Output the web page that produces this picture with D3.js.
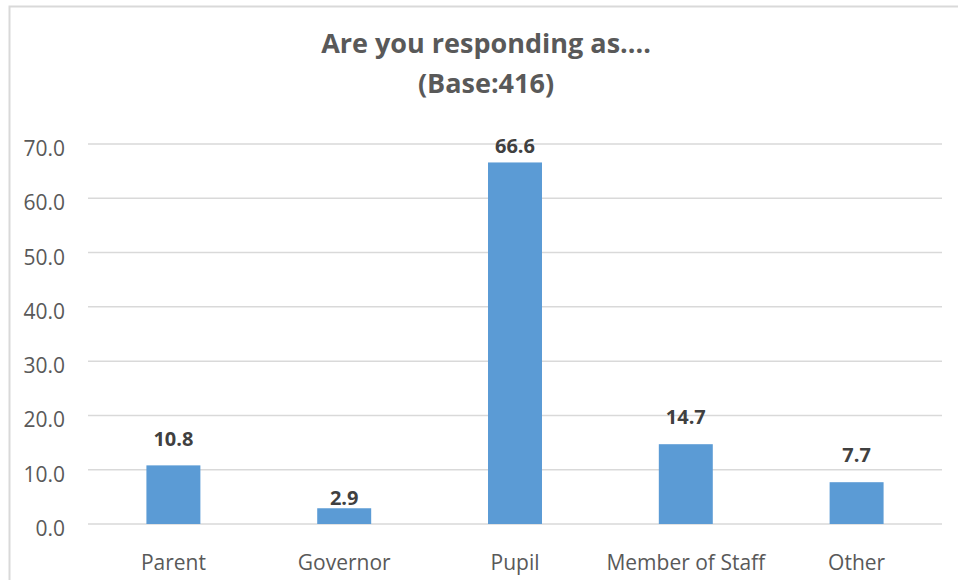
<!DOCTYPE html>
<html><head><meta charset="utf-8">
<script src="https://cdn.jsdelivr.net/npm/d3@7"></script>
<style>body{margin:0;background:#fff}svg{display:block}</style>
</head><body>
<script>
const categories = ["Parent","Governor","Pupil","Member of Staff","Other"];
const values = [10.8, 2.9, 66.6, 14.7, 7.7];
const yTicks = [0,10,20,30,40,50,60,70];
const titleLines = ["Are you responding as....","(Base:416)"];

(function(){
const W = 958, H = 580;
const svg = d3.select("body").append("svg").attr("width", W).attr("height", H);
const font = "'Open Sans', 'Noto Sans', sans-serif";
// gap between bar top and label baseline, as placed in the source chart
const labelGap = [19, 3, 9, 20, 20];

svg.append("rect").attr("x",9.5).attr("y",6.5).attr("width",W+20).attr("height",H+20)
  .attr("fill","none").attr("stroke","#d9d9d9").attr("stroke-width",2);

const pLeft = 88, pRight = 942, pTop = 144, pBottom = 524;
const x = d3.scaleBand().domain(categories).range([pLeft, pRight]).padding(0);
const y = d3.scaleLinear().domain([0,70]).range([pBottom, pTop]);

svg.append("g").selectAll("line").data(yTicks).join("line")
  .attr("x1", pLeft).attr("x2", pRight)
  .attr("y1", d => y(d)).attr("y2", d => y(d))
  .attr("stroke", "#d9d9d9").attr("stroke-width", 1.5);

const yAxis = d3.axisLeft(y).tickValues(yTicks).tickFormat(d3.format(".1f")).tickSize(0).tickPadding(0);
const ya = svg.append("g").attr("transform", `translate(65,0)`).call(yAxis);
ya.select(".domain").remove();
ya.selectAll("text").attr("font-family", font).attr("font-size", 21).attr("fill", "#595959").attr("dy", "0.55em");

const xAxis = d3.axisBottom(x).tickSize(0).tickPadding(0);
const xa = svg.append("g").attr("transform", `translate(0,${pBottom+31})`).call(xAxis);
xa.select(".domain").remove();
xa.selectAll("text").attr("font-family", font).attr("font-size", 21).attr("fill", "#595959");

const bw = x.bandwidth() * 0.316;
svg.append("g").selectAll("rect").data(values).join("rect")
  .attr("x", (d,i) => x(categories[i]) + x.bandwidth()/2 - bw/2)
  .attr("width", bw)
  .attr("y", d => y(d))
  .attr("height", d => y(0) - y(d))
  .attr("fill", "#5b9bd5");

svg.append("g").selectAll("text").data(values).join("text")
  .attr("x", (d,i) => x(categories[i]) + x.bandwidth()/2)
  .attr("y", (d,i) => y(d) - labelGap[i])
  .attr("text-anchor", "middle")
  .attr("font-family", font).attr("font-size", 20).attr("font-weight", "bold")
  .attr("fill", "#404040")
  .text(d => d3.format(".1f")(d));

svg.append("g").selectAll("text").data(titleLines).join("text")
  .attr("x", 486).attr("y", (d,i) => 53 + i*40)
  .attr("text-anchor", "middle")
  .attr("font-family", font).attr("font-size", 27).attr("font-weight", "bold")
  .attr("fill", "#595959")
  .text(d => d);
})();
</script>
</body></html>
